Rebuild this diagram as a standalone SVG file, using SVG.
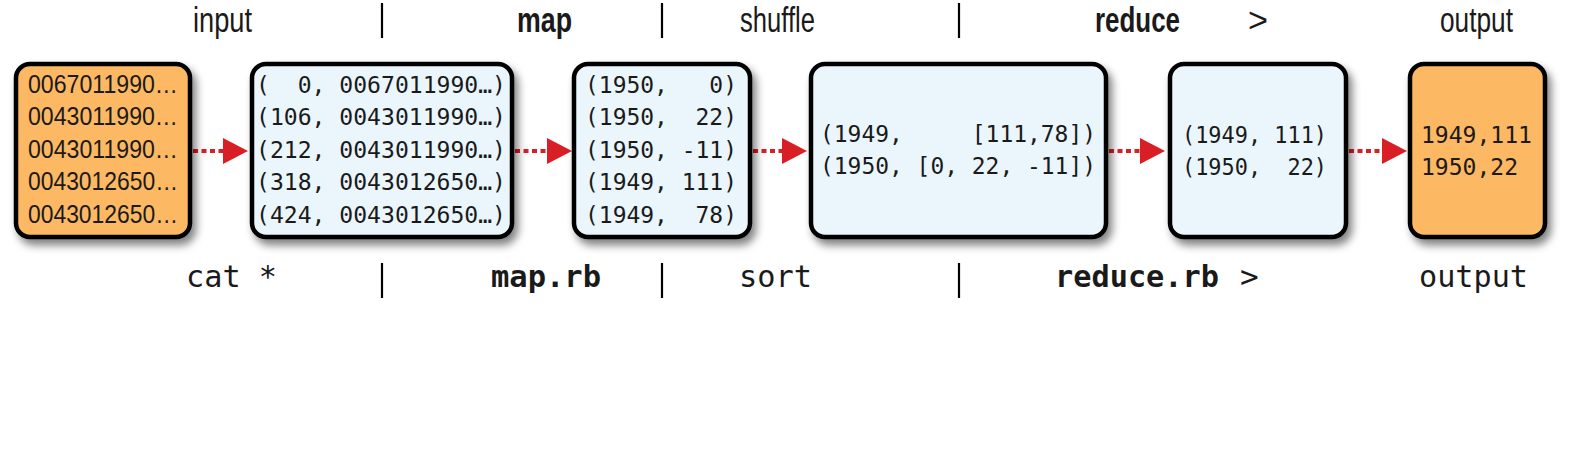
<svg xmlns="http://www.w3.org/2000/svg" width="1574" height="460" viewBox="0 0 1574 460">
<defs>
<filter id="sh" x="-20%" y="-20%" width="140%" height="140%">
<feGaussianBlur in="SourceAlpha" stdDeviation="4.5"/>
<feOffset dx="4" dy="6" result="b"/>
<feComponentTransfer><feFuncA type="linear" slope="0.5"/></feComponentTransfer>
<feMerge><feMergeNode/><feMergeNode in="SourceGraphic"/></feMerge>
</filter>
</defs>
<style>
.box{stroke:#000;stroke-width:4.5;filter:url(#sh)}
.or{fill:#FDB863}
.bl{fill:#EAF6FC}
.sans{font-family:"Liberation Sans Narrow","Liberation Sans",Arial,sans-serif;fill:#1a1a1a}
.lbl{font-size:35px}
.b{font-weight:bold}
.mono{font-family:"DejaVu Sans Mono","Liberation Mono",monospace;fill:#1a1a1a}
.mono text{white-space:pre}
.cmd{font-size:31px}
.bar{stroke:#000;stroke-width:2.2}
.dot{stroke:#D91E26;stroke-width:4;stroke-dasharray:5 3.5;fill:none}
.head{fill:#D91E26}
</style>

<g id="labels-top">
<text class="sans lbl" x="193" y="32" textLength="59" lengthAdjust="spacingAndGlyphs">input</text>
<line class="bar" x1="382" y1="3" x2="382" y2="38"/>
<text class="sans lbl b" x="517" y="32" textLength="55" lengthAdjust="spacingAndGlyphs">map</text>
<line class="bar" x1="662" y1="3" x2="662" y2="38"/>
<text class="sans lbl" x="740" y="32" textLength="75" lengthAdjust="spacingAndGlyphs">shuffle</text>
<line class="bar" x1="959" y1="3" x2="959" y2="38"/>
<text class="sans lbl b" x="1095" y="32" textLength="85" lengthAdjust="spacingAndGlyphs">reduce</text>
<text class="sans lbl" x="1248" y="32" textLength="20" lengthAdjust="spacingAndGlyphs">&gt;</text>
<text class="sans lbl" x="1440" y="32" textLength="73" lengthAdjust="spacingAndGlyphs">output</text>
</g>

<g id="labels-bottom">
<text class="mono cmd" x="186" y="287" style="white-space:pre" textLength="91" lengthAdjust="spacingAndGlyphs">cat *</text>
<line class="bar" x1="382" y1="263" x2="382" y2="298"/>
<text class="mono cmd b" x="491" y="287" textLength="110" lengthAdjust="spacingAndGlyphs">map.rb</text>
<line class="bar" x1="662" y1="263" x2="662" y2="298"/>
<text class="mono cmd" x="739" y="287" textLength="73" lengthAdjust="spacingAndGlyphs">sort</text>
<line class="bar" x1="959" y1="263" x2="959" y2="298"/>
<text class="mono cmd b" x="1055" y="287" textLength="164" lengthAdjust="spacingAndGlyphs">reduce.rb</text>
<text class="mono cmd" x="1240" y="287">&gt;</text>
<text class="mono cmd" x="1419" y="287" textLength="109" lengthAdjust="spacingAndGlyphs">output</text>
</g>

<g id="connectors">
<line class="dot" x1="193" y1="151" x2="223" y2="151"/>
<polygon class="head" points="223,138 248,151 223,164"/>
<line class="dot" x1="515" y1="151" x2="547" y2="151"/>
<polygon class="head" points="547,138 572,151 547,164"/>
<line class="dot" x1="753" y1="151" x2="782" y2="151"/>
<polygon class="head" points="782,138 807,151 782,164"/>
<line class="dot" x1="1109" y1="151" x2="1140" y2="151"/>
<polygon class="head" points="1140,138 1165,151 1140,164"/>
<line class="dot" x1="1349" y1="151" x2="1382" y2="151"/>
<polygon class="head" points="1382,138 1407,151 1382,164"/>
</g>

<g id="input">
<rect class="box or" x="16" y="64" width="174" height="173" rx="14"/>
<g class="sans" font-size="25">
<text x="28" y="92.5" textLength="150" lengthAdjust="spacingAndGlyphs">0067011990…</text>
<text x="28" y="125" textLength="150" lengthAdjust="spacingAndGlyphs">0043011990…</text>
<text x="28" y="157.5" textLength="150" lengthAdjust="spacingAndGlyphs">0043011990…</text>
<text x="28" y="190" textLength="150" lengthAdjust="spacingAndGlyphs">0043012650…</text>
<text x="28" y="222.5" textLength="150" lengthAdjust="spacingAndGlyphs">0043012650…</text>
</g>
</g>

<g id="map-input">
<rect class="box bl" x="252" y="64" width="260" height="173" rx="14"/>
<g class="mono" font-size="22.5">
<text x="256" y="92.5" textLength="250" lengthAdjust="spacingAndGlyphs">(  0, 0067011990…)</text>
<text x="256" y="125" textLength="250" lengthAdjust="spacingAndGlyphs">(106, 0043011990…)</text>
<text x="256" y="157.5" textLength="250" lengthAdjust="spacingAndGlyphs">(212, 0043011990…)</text>
<text x="256" y="190" textLength="250" lengthAdjust="spacingAndGlyphs">(318, 0043012650…)</text>
<text x="256" y="222.5" textLength="250" lengthAdjust="spacingAndGlyphs">(424, 0043012650…)</text>
</g>
</g>

<g id="map-output">
<rect class="box bl" x="574" y="64" width="176" height="173" rx="14"/>
<g class="mono" font-size="22.5">
<text x="585" y="92.5" textLength="152" lengthAdjust="spacingAndGlyphs">(1950,   0)</text>
<text x="585" y="125" textLength="152" lengthAdjust="spacingAndGlyphs">(1950,  22)</text>
<text x="585" y="157.5" textLength="152" lengthAdjust="spacingAndGlyphs">(1950, -11)</text>
<text x="585" y="190" textLength="152" lengthAdjust="spacingAndGlyphs">(1949, 111)</text>
<text x="585" y="222.5" textLength="152" lengthAdjust="spacingAndGlyphs">(1949,  78)</text>
</g>
</g>

<g id="shuffle-output">
<rect class="box bl" x="811" y="64" width="295" height="173" rx="14"/>
<g class="mono" font-size="22.5">
<text x="820" y="142" textLength="276" lengthAdjust="spacingAndGlyphs">(1949,     [111,78])</text>
<text x="820" y="174" textLength="276" lengthAdjust="spacingAndGlyphs">(1950, [0, 22, -11])</text>
</g>
</g>

<g id="reduce-output">
<rect class="box bl" x="1170" y="64" width="176" height="173" rx="14"/>
<g class="mono" font-size="22.5">
<text x="1182" y="142.5" textLength="145" lengthAdjust="spacingAndGlyphs">(1949, 111)</text>
<text x="1182" y="175" textLength="145" lengthAdjust="spacingAndGlyphs">(1950,  22)</text>
</g>
</g>

<g id="output">
<rect class="box or" x="1410" y="64" width="135" height="173" rx="14"/>
<g class="mono" font-size="23">
<text x="1421" y="143" textLength="111" lengthAdjust="spacingAndGlyphs">1949,111</text>
<text x="1421" y="175" textLength="97" lengthAdjust="spacingAndGlyphs">1950,22</text>
</g>
</g>
</svg>
